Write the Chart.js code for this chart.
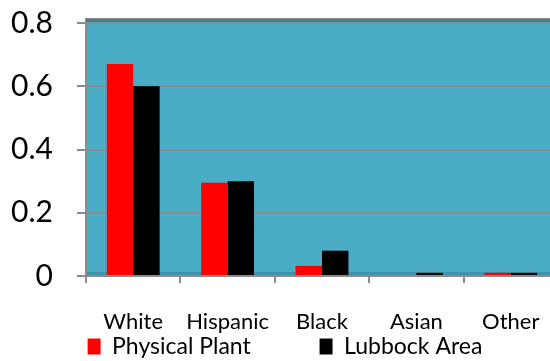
<!DOCTYPE html>
<html>
<head>
<meta charset="utf-8">
<script src="https://cdn.jsdelivr.net/npm/chart.js@4/dist/chart.umd.min.js"></script>
<style>
  html, body { margin: 0; padding: 0; background: #ffffff; overflow: hidden; }
  #wrap { width: 570px; height: 368px; }
</style>
</head>
<body>
<div id="wrap"><canvas id="c" width="570" height="368"></canvas></div>
<script>
// Workforce ethnicity share: Physical Plant vs. the Lubbock area
const categories = ['White', 'Hispanic', 'Black', 'Asian', 'Other'];
const physicalPlant = [0.67, 0.295, 0.032, 0, 0.01];
const lubbockArea = [0.60, 0.30, 0.08, 0.01, 0.01];
const yTickLabels = ['0', '0.2', '0.4', '0.6', '0.8'];

const FONT = 'Lato, "DejaVu Sans", sans-serif';
// blank run that widens the gap between legend entries
const LEGEND_GAP = ' '.repeat(11);

// Teal plot wall with a darker top rim and floor, drawn behind the grid
const plotWall = {
  id: 'plotWall',
  afterLayout(chart) {
    // let the category labels hang below the axis box without being clipped
    chart.scales.x.bottom += 16;
  },
  beforeDraw(chart) {
    const { ctx, chartArea: a } = chart;
    ctx.save();
    ctx.fillStyle = '#4BACC6';
    ctx.fillRect(a.left - 1, a.top - 4, a.right - a.left + 1, a.bottom - a.top + 4);
    ctx.fillStyle = '#3A8499';
    ctx.fillRect(a.left, a.top - 4, a.right - a.left, 5);
    ctx.fillStyle = '#3E93AA';
    ctx.fillRect(a.left, a.bottom - 4, a.right - a.left, 4);
    ctx.fillStyle = '#8C8C8C';
    ctx.fillRect(a.left - 1, a.top - 5, a.right - a.left + 1, 1);
    ctx.restore();
  }
};

new Chart(document.getElementById('c'), {
  type: 'bar',
  data: {
    labels: categories,
    datasets: [
      { label: 'Physical Plant', data: physicalPlant, backgroundColor: '#FF0000', borderWidth: 0 },
      { label: 'Lubbock Area', data: lubbockArea, backgroundColor: '#000000', borderWidth: 0 }
    ]
  },
  options: {
    responsive: false,
    animation: false,
    devicePixelRatio: 1,
    layout: { padding: { top: 23, left: 0, right: 0, bottom: 0 } },
    datasets: { bar: { categoryPercentage: 0.56, barPercentage: 1 } },
    plugins: {
      tooltip: { enabled: false },
      legend: {
        position: 'bottom',
        labels: {
          color: '#000000',
          font: { family: FONT, size: 23 },
          boxWidth: 13,
          boxHeight: 16,
          padding: 4,
          generateLabels(chart) {
            const items = Chart.defaults.plugins.legend.labels.generateLabels(chart);
            items.forEach((it, i) => { if (i < items.length - 1) it.text += LEGEND_GAP; });
            return items;
          }
        }
      }
    },
    scales: {
      x: {
        grid: { drawOnChartArea: false, color: '#8C8C8C', lineWidth: 2, tickLength: 7, offset: true },
        border: { color: '#8C8C8C', width: 2 },
        ticks: { color: '#000000', font: { family: FONT, size: 22 }, padding: 26, maxRotation: 0 },
        afterFit(s) { s.height = 55; }
      },
      y: {
        min: 0, max: 0.8,
        ticks: {
          stepSize: 0.2,
          color: '#000000',
          font: { family: FONT, size: 30 },
          padding: 24,
          callback: (v, i) => yTickLabels[i]
        },
        grid: { color: '#8C8C8C', lineWidth: 2, tickLength: 9 },
        border: { color: '#8C8C8C', width: 2 },
        afterFit(s) { s.width = 86; s.paddingTop = 0; s.paddingBottom = 0; }
      },
      yRight: {
        position: 'right',
        display: true,
        grid: { display: false },
        border: { display: false },
        ticks: { display: false },
        afterFit(s) { s.width = 12; s.paddingTop = 0; s.paddingBottom = 0; }
      }
    }
  },
  plugins: [plotWall]
});
</script>
</body>
</html>
